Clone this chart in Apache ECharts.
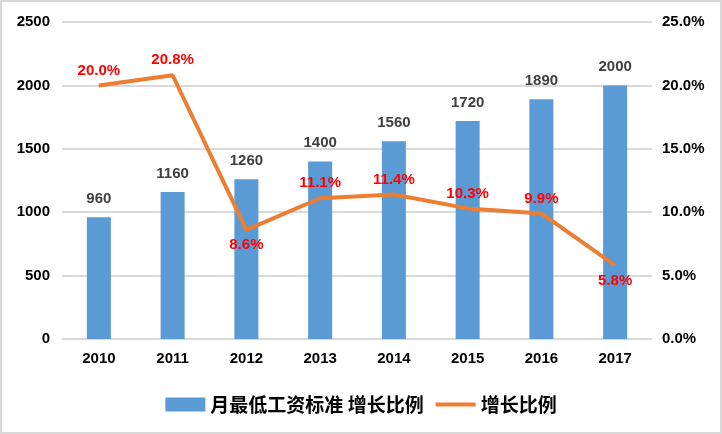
<!DOCTYPE html>
<html><head><meta charset="utf-8">
<script src="https://cdn.jsdelivr.net/npm/echarts@6/dist/echarts.min.js"></script>
<style>html,body{margin:0;padding:0;background:#fff}#c{width:722px;height:434px;box-sizing:border-box;border:2px solid #d9d9d9}</style>
</head><body><div id="c"></div>
<script>
const years = ['2010','2011','2012','2013','2014','2015','2016','2017'];
const wages = [960,1160,1260,1400,1560,1720,1890,2000];
const growth = [20.0,20.8,8.6,11.1,11.4,10.3,9.9,5.8];
const growthLabelPos = ['top','top','bottom','top','top','top','top','bottom'];
const barName = '月最低工资标准 增长比例';
const lineName = '增长比例';

const chart = echarts.init(document.getElementById('c'));
const axisFont = {fontFamily:'Liberation Sans, Arial', fontWeight:'bold', fontSize:15, color:'#000'};
chart.setOption({
  animation:false,
  grid:{left:60,right:68,top:20,bottom:93},
  legend:{
    bottom:13, left:'center', itemGap:10,
    textStyle:{fontFamily:'Noto Sans CJK SC', fontSize:19, fontWeight:'bold', color:'#000'},
    data:[{name:barName, icon:'rect'},
          {name:lineName, itemStyle:{opacity:0}, lineStyle:{width:4, color:'#ED7D31'}}],
    itemWidth:40, itemHeight:14
  },
  xAxis:{type:'category', data:years,
    axisLine:{show:true, lineStyle:{color:'#d9d9d9', width:1}},
    axisTick:{show:false},
    axisLabel:Object.assign({margin:12}, axisFont)},
  yAxis:[
    {type:'value', min:0, max:2500, interval:500,
     axisLabel:Object.assign({margin:12, formatter:v=>String(v)}, axisFont),
     splitLine:{lineStyle:{color:'#d9d9d9', width:2}}},
    {type:'value', min:0, max:25, interval:5,
     axisLabel:Object.assign({margin:10, formatter:v=>v.toFixed(1)+'%'}, axisFont),
     splitLine:{show:false}}
  ],
  series:[
    {name:barName, type:'bar', data:wages, barWidth:24, itemStyle:{color:'#5B9BD5'},
     label:{show:true, position:'top', distance:11, color:'#404040', fontWeight:'bold', fontSize:15, fontFamily:'Liberation Sans, Arial'}},
    {name:lineName, type:'line', yAxisIndex:1, symbol:'circle', symbolSize:1,
     lineStyle:{color:'#ED7D31', width:4}, itemStyle:{color:'#ED7D31'},
     data:growth.map((v,i)=>({value:v, label:{position:growthLabelPos[i]}})),
     label:{show:true, distance:7, color:'#FF0000', fontWeight:'bold', fontSize:15, fontFamily:'Liberation Sans, Arial', formatter:p=>p.value.toFixed(1)+'%'},
     z:5}
  ]
});
</script></body></html>
